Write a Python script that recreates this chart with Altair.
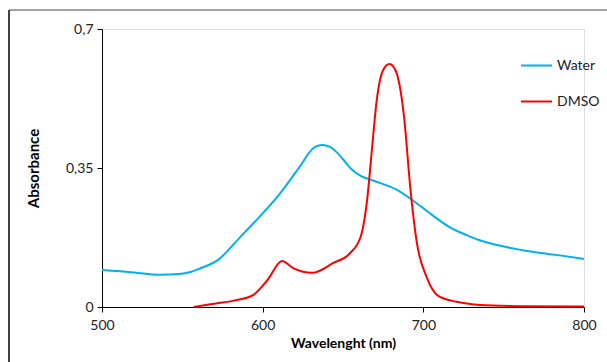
import altair as alt
import pandas as pd

# Absorbance spectra of the dye in two solvents
water_nm = [500, 520, 536, 548, 555, 561, 572, 586, 598, 611, 623, 631, 637, 642, 646, 650, 655, 661, 669, 683, 694, 706, 716, 727, 735, 748, 768, 785, 800]
water_abs = [0.093, 0.087, 0.081, 0.083, 0.088, 0.097, 0.118, 0.176, 0.227, 0.287, 0.353, 0.398, 0.408, 0.403, 0.390, 0.372, 0.348, 0.330, 0.318, 0.296, 0.267, 0.230, 0.202, 0.181, 0.168, 0.154, 0.139, 0.130, 0.121]

dmso_nm = [557, 560, 571, 582, 594, 603, 612, 619, 631, 644, 654, 661, 665, 668, 671, 675, 679, 683, 688, 692, 696, 702, 710, 725, 735, 760, 800]
dmso_abs = [0.0, 0.002, 0.009, 0.016, 0.030, 0.068, 0.116, 0.098, 0.086, 0.111, 0.134, 0.177, 0.269, 0.396, 0.521, 0.597, 0.612, 0.593, 0.479, 0.295, 0.161, 0.076, 0.026, 0.010, 0.005, 0.002, 0.001]

series_names = ["Water", "DMSO"]
series_colors = ["#00B0F0", "#FF0000"]

df = pd.concat([
    pd.DataFrame({"nm": water_nm, "abs": water_abs, "solvent": "Water"}),
    pd.DataFrame({"nm": dmso_nm, "abs": dmso_abs, "solvent": "DMSO"}),
])

FONT = "Lato"

lines = alt.Chart(df).mark_line(strokeWidth=2, interpolate="monotone").encode(
    x=alt.X("nm:Q", title="Wavelenght (nm)",
            scale=alt.Scale(domain=[500, 800], nice=False),
            axis=alt.Axis(values=[500, 600, 700, 800], grid=False, tickSize=5,
                          domainColor="black", tickColor="black", labelFlush=False,
                          labelFontSize=14, labelColor="#222", labelPadding=6,
                          titleFontSize=14, titleFontWeight="bold", titleColor="black",
                          titlePadding=4)),
    y=alt.Y("abs:Q", title="Absorbance",
            scale=alt.Scale(domain=[0, 0.7], nice=False),
            axis=alt.Axis(values=[0, 0.35, 0.7], grid=False, tickSize=5,
                          domainColor="black", tickColor="black", labelFlush=False,
                          labelExpr="replace(toString(datum.value), '.', ',')",
                          labelFontSize=14, labelColor="#222", labelPadding=4,
                          titleFontSize=15, titleFontWeight="bold", titleColor="black",
                          titlePadding=24)),
    color=alt.Color("solvent:N",
                    scale=alt.Scale(domain=series_names, range=series_colors),
                    legend=alt.Legend(title=None, orient="none", legendX=418, legendY=20,
                                      symbolType="stroke", symbolSize=961, symbolStrokeWidth=2,
                                      labelFontSize=14, labelColor="#222", labelOffset=4,
                                      rowPadding=12, padding=0)),
)

# outer frame edges of the figure
frame = pd.DataFrame({"k": [0]})
left_edge = alt.Chart(frame).mark_rule(color="black", strokeWidth=1.5).encode(
    x=alt.value(-93), y=alt.value(-19), y2=alt.value(333))
top_edge = alt.Chart(frame).mark_rule(color="#444", strokeWidth=1).encode(
    x=alt.value(-93), x2=alt.value(505), y=alt.value(-19))

chart = alt.layer(lines, left_edge, top_edge).properties(
    width=482, height=278,
    autosize=alt.AutoSizeParams(type="none"),
    padding={"left": 102, "top": 29, "right": 23, "bottom": 55},
).configure_view(stroke=None).configure(font=FONT, background="white")

chart.save("out.html", embed_options={"renderer": "svg", "actions": False})
